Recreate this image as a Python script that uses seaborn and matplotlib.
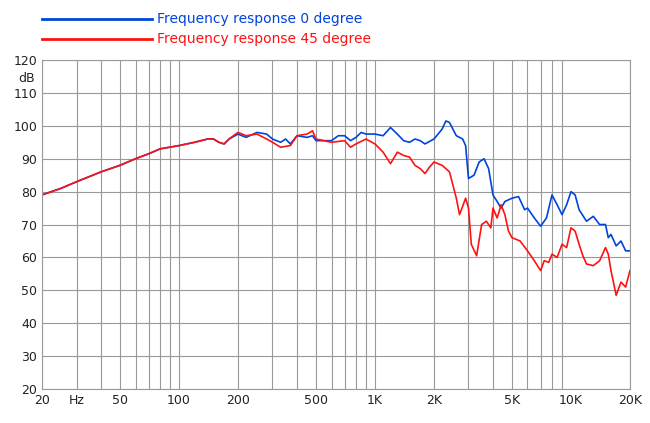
import matplotlib
matplotlib.use("Agg")
import matplotlib.pyplot as plt
import seaborn as sns
import pandas as pd

common_f = [20,25,30,40,50,60,70,80,100,120,140,150,160,170,180]
common_db = [79,81,83,86,88,90,91.5,93,94,95,96,96,95,94.5,96]

blue_f = common_f + [200,220,250,280,300,330,350,370,400,450,480,500,600,650,700,750,800,850,900,1000,1100,1200,1300,1400,1500,1600,1700,1800,2000,2200,2300,2400,2600,2800,2900,3000,3200,3400,3600,3800,4000,4200,4400,4600,5000,5400,5800,6000,6500,7000,7500,8000,8500,9000,9500,10000,10500,11000,12000,13000,14000,15000,15500,16000,17000,18000,19000,20000]
blue_db = common_db + [97.5,96.5,98,97.5,96,95,96,94.5,97,96.5,97,95.5,95.5,97,97,95.5,96.5,98,97.5,97.5,97,99.5,97.5,95.5,95,96,95.5,94.5,96,99,101.5,101,97,96,94,84,85,89,90,87,79,77,75,77,78,78.5,74.5,75,72,69.5,72,79,76,73,76,80,79,74.5,71,72.5,70,70,66,67,63.5,65,62,62]

red_f = common_f + [200,220,250,280,300,330,370,400,450,480,500,600,700,750,800,900,1000,1100,1200,1300,1400,1500,1600,1700,1800,1900,2000,2200,2400,2600,2700,2900,3000,3100,3300,3500,3700,3900,4000,4200,4400,4600,4800,5000,5500,6000,6500,7000,7300,7700,8000,8500,9000,9500,10000,10500,11000,11500,12000,13000,14000,15000,15500,16000,17000,18000,19000,20000]
red_db = common_db + [98,97,97.5,96,95,93.5,94,97,97.5,98.5,96,95,95.5,93.5,94.5,96,94.5,92,88.5,92,91,90.5,88,87,85.5,87.5,89,88,86,78,73,78,75,64,60.5,70,71,69,75,72,76,73,68,66,65,62,59,56,59,58.5,61,60,64,63,69,68,64,60.5,58,57.5,59,63,61,56,48.5,52.5,51,56]

tick_pos = [20,30,50,100,200,500,1000,2000,5000,10000,20000]
tick_lab = ["20","Hz","50","100","200","500","1K","2K","5K","10K","20K"]
y_ticks = [20,30,40,50,60,70,80,90,100,110,120]

df = pd.concat([
    pd.DataFrame({"f": blue_f, "db": blue_db, "s": "Frequency response 0 degree"}),
    pd.DataFrame({"f": red_f, "db": red_db, "s": "Frequency response 45 degree"}),
])

fig = plt.figure(figsize=(6.5, 4.23), dpi=100)
ax = fig.add_axes([0.0646, 0.0804, 0.9046, 0.7776])
grid = [20,30,40,50,60,70,80,90] + [m*10**k for k in (2,3) for m in range(1,10)] + [20000]
for g in grid:
    ax.axvline(g, color="#999999", lw=0.8, zorder=0)
for y in y_ticks:
    ax.axhline(y, color="#999999", lw=0.8, zorder=0)
sns.lineplot(data=df, x="f", y="db", hue="s", palette=["#0044dd", "#ff1111"],
             ax=ax, lw=1.2, legend=False, sort=False, estimator=None)
ax.set_xscale("log")
ax.set_xlim(20, 20000)
ax.set_ylim(20, 120)
ax.set_xticks(tick_pos)
ax.set_xticklabels(tick_lab)
ax.xaxis.set_minor_locator(matplotlib.ticker.NullLocator())
ax.set_yticks(y_ticks)
ax.tick_params(length=0, labelsize=9, colors="#222222")
ax.set_xlabel(""); ax.set_ylabel("")
for s in ax.spines.values():
    s.set_color("#999999"); s.set_linewidth(0.8)
ax.text(-0.012, 0.965, "dB", transform=ax.transAxes, ha="right", va="top", fontsize=9, color="#222222")

for i, (lab, c) in enumerate([("Frequency response 0 degree", "#0044dd"), ("Frequency response 45 degree", "#ff1111")]):
    yy = 1 - (19 + 20*i)/423
    fig.add_artist(plt.Line2D([42/650, 152/650], [yy, yy], color=c, lw=2))
    fig.text(157/650, yy, lab, color=c, fontsize=10, va="center")

fig.savefig("out.png", dpi=100)
